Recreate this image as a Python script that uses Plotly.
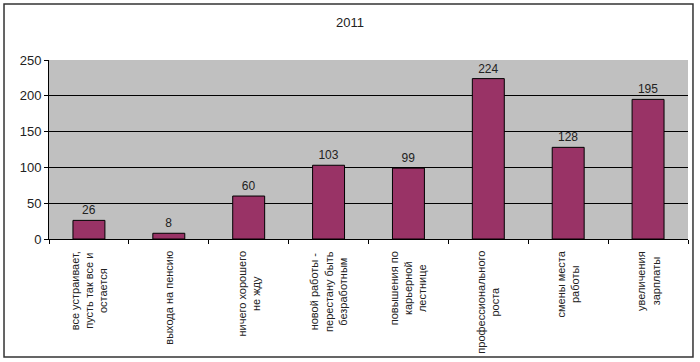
import plotly.graph_objects as go

title = "2011"
categories = [
    "все устраивает,<br>пусть так все и<br>остается",
    "выхода на пенсию",
    "ничего хорошего<br>не жду",
    "новой работы -<br>перестану быть<br>безработным",
    "повышения по<br>карьерной<br>лестнице",
    "профессионального<br>роста",
    "смены места<br>работы",
    "увеличения<br>зарплаты",
]
values = [26, 8, 60, 103, 99, 224, 128, 195]
y_ticks = [0, 50, 100, 150, 200, 250]

cat_ids = list(range(len(categories)))
FONT = "Liberation Sans, Arial"

fig = go.Figure()
fig.add_trace(go.Bar(
    x=cat_ids, y=values,
    marker=dict(color="#993366", line=dict(color="#000000", width=1)),
    text=[str(v) for v in values], textposition="outside",
    textfont=dict(family=FONT, size=12, color="#222222"),
    cliponaxis=False, width=0.4,
))

for i, lab in enumerate(categories):
    fig.add_annotation(
        x=i, xref="x", y=-0.055, yref="paper",
        text=lab, textangle=-90, showarrow=False,
        xanchor="center", yanchor="top", align="center",
        font=dict(family=FONT, size=11, color="#222222"),
    )

# outer chart border
fig.add_shape(type="rect", xref="paper", yref="paper",
              x0=-0.0704, x1=1.0078, y0=-0.659, y1=1.3128,
              line=dict(color="#333333", width=1.5), layer="below")

fig.update_layout(
    width=700, height=362,
    margin=dict(l=49, r=12, t=60, b=123),
    paper_bgcolor="#ffffff", plot_bgcolor="#c0c0c0",
    showlegend=False,
    title=dict(text=title, x=0.5, xref="container", xanchor="center",
               y=1 - 22 / 362, yanchor="middle",
               font=dict(family=FONT, size=13, color="#222222")),
    font=dict(family=FONT, color="#222222"),
)
fig.update_xaxes(
    type="linear", range=[-0.5, len(categories) - 0.5],
    tickvals=[i - 0.5 for i in range(len(categories) + 1)],
    showticklabels=False, ticks="outside", ticklen=4, tickcolor="#000000",
    showgrid=False, zeroline=False, showline=True, linecolor="#000000", linewidth=1,
)
fig.update_yaxes(
    range=[0, 250], tickvals=y_ticks, ticks="outside", ticklen=4, tickcolor="#000000",
    tickfont=dict(family=FONT, size=13, color="#222222"),
    showgrid=True, gridcolor="#000000", gridwidth=1, zeroline=False,
    showline=True, linecolor="#000000", linewidth=1,
)

fig.write_html(
    "out.html",
    config={"displayModeBar": False},
    post_script="document.body.style.margin='0';document.body.style.overflow='hidden';",
)
